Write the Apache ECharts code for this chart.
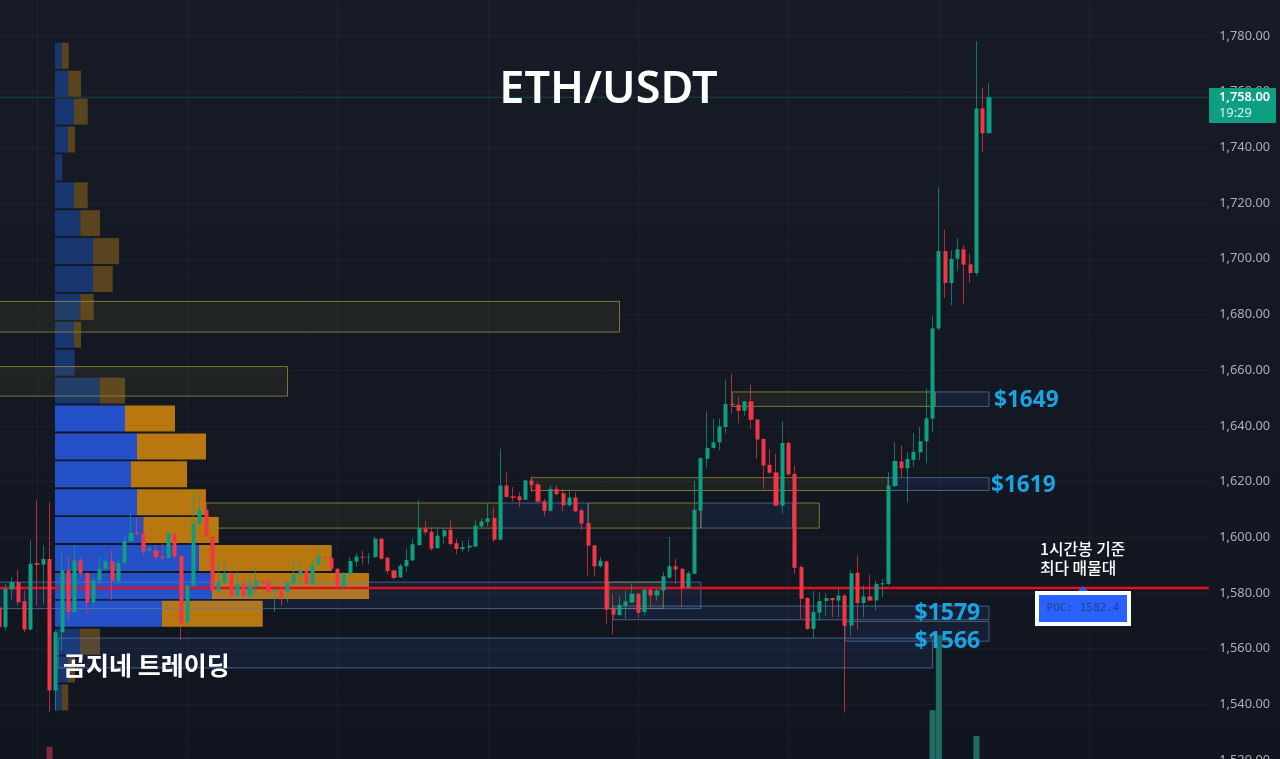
<!DOCTYPE html>
<html>
<head>
<meta charset="utf-8">
<title>ETH/USDT</title>
<style>
  html, body { margin: 0; padding: 0; background: #141823; }
  #chart { width: 1280px; height: 759px; }
</style>
<script src="https://cdn.jsdelivr.net/npm/echarts@6/dist/echarts.min.js"></script>
</head>
<body>
<div id="chart"></div>
<script>
// candles: open, close, low, high
var candles = [
  [1574.9,1567.7,1566.5,1576.1],[1567.7,1581.5,1566.5,1583.3],[1581.3,1583.9,1577.3,1585.7],[1583.9,1576.7,1575.5,1588.3],
  [1577.1,1566.9,1565.9,1580.9],[1566.9,1590.5,1566.5,1598.9],[1590.7,1590.1,1575.5,1613.2],[1590.2,1592.2,1576.1,1597.1],
  [1592.2,1545.0,1537.2,1612.6],[1545.0,1565.9,1537.8,1566.5],[1565.9,1588.1,1559.4,1594.7],[1588.1,1573.1,1570.1,1593.5],
  [1573.1,1591.7,1572.9,1597.1],[1591.7,1587.1,1585.7,1592.9],[1587.2,1576.7,1572.5,1587.5],[1576.7,1584.5,1574.3,1585.7],
  [1584.5,1588.7,1583.3,1592.9],[1588.7,1591.4,1588.1,1592.3],[1591.4,1584.3,1577.3,1595.3],[1584.3,1590.7,1583.3,1592.3],
  [1590.7,1598.6,1590.5,1600.6],[1598.6,1601.6,1598.5,1608.4],[1601.7,1601.2,1600.6,1607.2],[1601.2,1594.9,1593.5,1604.8],
  [1595.5,1595.9,1594.7,1596.5],[1595.3,1592.9,1591.7,1597.1],[1593.1,1592.6,1591.7,1597.7],[1592.6,1601.5,1592.3,1602.4],
  [1601.2,1593.1,1592.3,1601.8],[1593.4,1569.2,1563.2,1593.5],[1569.5,1582.7,1569.2,1583.1],[1582.7,1604.8,1582.1,1616.2],
  [1604.8,1609.9,1604.2,1615.6],[1609.9,1600.3,1600.0,1616.8],[1600.3,1580.9,1580.3,1600.6],[1580.9,1583.9,1580.3,1591.7],
  [1583.9,1587.2,1583.3,1591.1],[1586.9,1578.9,1578.5,1587.5],[1578.9,1583.1,1578.5,1587.5],[1583.1,1578.9,1578.5,1585.1],
  [1578.9,1582.7,1578.5,1585.7],[1582.5,1584.5,1579.7,1589.3],[1584.3,1583.8,1581.5,1584.7],[1583.9,1580.3,1579.1,1585.7],
  [1580.7,1581.1,1573.1,1581.5],[1581.5,1578.5,1575.5,1582.1],[1580.5,1583.5,1576.7,1584.5],[1583.5,1586.6,1583.3,1591.7],
  [1586.5,1588.1,1583.3,1591.7],[1587.8,1583.3,1583.1,1589.3],[1583.3,1590.2,1582.7,1591.7],[1590.2,1592.9,1589.9,1596.5],
  [1592.9,1592.5,1591.7,1593.5],[1592.6,1588.7,1588.3,1593.1],[1588.7,1582.3,1581.9,1589.0],[1582.3,1586.9,1581.5,1587.5],
  [1586.7,1591.5,1585.1,1592.9],[1591.3,1593.1,1589.6,1594.3],[1593.0,1592.7,1590.3,1595.1],[1592.8,1593.0,1590.3,1594.3],
  [1592.9,1599.5,1592.7,1600.3],[1599.5,1592.3,1591.9,1599.7],[1592.7,1587.9,1586.9,1592.9],[1588.1,1585.4,1584.8,1588.4],
  [1585.6,1589.8,1585.4,1590.5],[1589.6,1591.9,1587.5,1595.9],[1591.7,1597.5,1591.5,1599.5],[1597.2,1603.2,1597.0,1613.3],
  [1603.2,1601.8,1600.7,1605.8],[1602.0,1595.9,1595.1,1603.4],[1596.1,1600.6,1595.9,1603.7],[1600.3,1602.5,1597.7,1603.4],
  [1602.7,1597.6,1597.1,1606.1],[1597.9,1595.8,1593.9,1599.5],[1595.8,1596.5,1594.8,1598.7],[1596.3,1597.0,1594.8,1599.1],
  [1596.7,1604.2,1596.5,1606.1],[1603.9,1605.7,1603.1,1606.7],[1605.5,1606.8,1603.9,1612.1],[1607.0,1599.1,1598.3,1610.9],
  [1599.1,1618.6,1598.9,1631.8],[1618.6,1614.5,1614.2,1623.2],[1614.7,1614.2,1612.9,1618.0],[1614.7,1613.3,1610.9,1616.2],
  [1613.5,1620.4,1613.3,1620.6],[1620.4,1618.8,1616.2,1621.9],[1619.0,1612.8,1612.3,1619.8],[1613.0,1609.5,1607.5,1613.9],
  [1609.5,1617.4,1609.3,1618.6],[1617.4,1615.5,1615.0,1618.6],[1615.8,1611.5,1609.3,1617.4],[1611.5,1614.3,1611.1,1617.1],
  [1614.3,1609.3,1609.1,1616.2],[1609.7,1604.9,1602.5,1610.3],[1605.1,1597.0,1586.3,1605.2],[1597.1,1589.6,1586.0,1597.3],
  [1589.6,1591.6,1589.1,1592.9],[1591.3,1574.0,1568.7,1591.7],[1574.4,1572.2,1565.1,1579.7],[1572.1,1575.8,1571.6,1579.1],
  [1575.4,1577.0,1570.8,1580.9],[1576.6,1579.7,1576.4,1583.3],[1579.7,1572.9,1571.1,1580.0],[1573.2,1581.2,1572.0,1581.5],
  [1581.2,1579.1,1574.9,1581.5],[1579.1,1580.9,1577.3,1581.5],[1580.9,1586.0,1580.7,1587.5],[1585.5,1589.6,1585.1,1600.1],
  [1589.6,1588.4,1583.3,1592.3],[1588.7,1581.8,1574.9,1589.0],[1581.9,1587.1,1581.6,1587.8],[1586.9,1609.9,1586.7,1620.2],
  [1609.6,1628.4,1609.4,1628.8],[1628.2,1632.1,1625.0,1645.3],[1632.1,1634.1,1631.8,1642.6],[1634.1,1639.8,1631.2,1642.6],
  [1639.6,1647.9,1637.4,1656.6],[1647.9,1647.5,1644.3,1658.7],[1647.6,1645.4,1641.0,1650.3],[1645.4,1648.8,1643.7,1648.9],
  [1648.8,1642.2,1639.0,1654.9],[1642.3,1635.1,1628.2,1642.6],[1635.3,1625.8,1617.4,1635.4],[1626.0,1623.2,1622.8,1631.8],
  [1623.3,1611.4,1611.2,1630.0],[1611.4,1633.9,1608.4,1641.7],[1633.9,1622.6,1622.2,1634.2],[1622.8,1589.0,1586.9,1625.8],
  [1589.3,1577.9,1570.7,1589.9],[1578.2,1567.1,1566.8,1578.5],[1567.1,1573.1,1563.9,1580.7],[1572.9,1577.1,1570.1,1580.3],
  [1577.1,1578.2,1571.9,1579.7],[1578.2,1577.4,1571.3,1578.3],[1577.3,1579.1,1571.3,1581.9],[1579.1,1568.2,1537.1,1579.5],
  [1568.3,1587.1,1564.7,1588.1],[1587.3,1576.4,1566.8,1593.5],[1576.4,1578.8,1571.3,1582.7],[1578.8,1577.3,1577.1,1586.5],
  [1577.3,1583.3,1573.7,1584.5],[1583.1,1583.5,1578.5,1585.1],[1583.3,1618.6,1582.7,1623.4],[1618.4,1627.4,1618.0,1634.2],
  [1627.2,1624.8,1621.6,1633.0],[1624.8,1628.1,1612.6,1630.6],[1627.8,1630.7,1625.2,1637.4],[1630.5,1634.5,1627.6,1639.6],
  [1634.4,1642.7,1626.6,1653.3],[1642.6,1675.0,1637.8,1679.6],[1675.0,1702.8,1674.5,1725.7],[1702.8,1691.3,1686.0,1710.4],
  [1691.3,1700.0,1683.2,1703.0],[1700.0,1703.4,1695.6,1707.2],[1703.4,1697.9,1683.6,1704.8],[1698.0,1694.9,1691.3,1701.8],
  [1694.9,1754.0,1694.0,1778.2],[1754.0,1745.1,1738.3,1761.4],[1745.1,1758.0,1745.0,1763.1]
];

// only the volume bars tall enough to show above the bottom edge: [candle, volume]
var volumes = [[8, 17], [149, 64], [150, 160], [156, 31]];

// volume profile, top row first
var profilePrices = ["1773","1763","1753","1743","1733","1723","1713","1703","1693","1683","1673","1663","1653","1643","1633","1623","1613","1603","1593","1583","1573","1563","1553","1543"];
var profileBuy  = [6.7,13.3,19,13,7.3,19,25.3,38,38,25.3,19,19.7,44.7,70,82,76,82,88.3,144,157,107,25,13,6.7];
var profileSell = [7,12.7,13.7,7,0,13.7,19.7,26,19.7,13.4,7,0,25.3,50,69,56,69,75.4,132.7,157,100.7,20,7,6.6];
var valueAreaFirst = 13, valueAreaLast = 20;

// zones: from candle, to candle, top price, bottom price
var yellowZones = [
  [-5, 99, 1684.7, 1673.7],
  [-5, 46, 1661.3, 1650.7],
  [33, 80.2, 1612.3, 1603.3],
  [94, 112, 1612.3, 1603.3],
  [126.7, 130.9, 1612.3, 1603.3],
  [117, 149.4, 1652.2, 1647],
  [84.9, 141.9, 1621.4, 1616.8],
  [97.3, 106, 1583.9, 1574.4]
];
var blueZones = [
  [149.4, 158, 1652.2, 1647],
  [141.9, 158, 1621.4, 1616.8],
  [80.2, 94, 1612.3, 1603.3],
  [112, 126.7, 1612.3, 1603.3],
  [-5, 112, 1583.9, 1574.4],
  [98, 158, 1575.3, 1570.4],
  [135, 158, 1569.8, 1562.7],
  [9.4, 149, 1563.8, 1553.1]
];

var pocPrice = 1581.8;
var lastPrice = 1758;
var categories = [];
for (var n = 0; n < 194; n++) categories.push(String(n));

var UP = "#0e9f83";
var DOWN = "#f23645";
var LATIN = '"Noto Sans", sans-serif';
var KOREAN = '"Noto Sans CJK KR", sans-serif';

function zoneSeries(rows, stroke, fill, z) {
  return {
    type: "custom",
    xAxisIndex: 1,
    yAxisIndex: 0,
    z: z,
    silent: true,
    clip: true,
    data: rows,
    encode: { x: [0, 1], y: [2, 3] },
    renderItem: function (params, api) {
      var a = api.coord([api.value(0), api.value(2)]);
      var b = api.coord([api.value(1), api.value(3)]);
      return {
        type: "rect",
        shape: { x: a[0], y: a[1], width: b[0] - a[0], height: b[1] - a[1] },
        style: { fill: fill, stroke: stroke, lineWidth: 1 }
      };
    }
  };
}

function levelLine(price, color, width, z) {
  return {
    type: "line",
    xAxisIndex: 1,
    yAxisIndex: 0,
    z: z,
    silent: true,
    symbol: "none",
    lineStyle: { color: color, width: width },
    data: [[-1, price], [193.1, price]]
  };
}

function overlayText(text, x, y, font, color, align) {
  return {
    type: "text",
    z: 100,
    x: x,
    y: y,
    style: { text: text, font: font, fill: color, textAlign: align || "left", textVerticalAlign: "middle" }
  };
}

var chart = echarts.init(document.getElementById("chart"));

chart.setOption({
  animation: false,
  backgroundColor: new echarts.graphic.LinearGradient(0, 0, 0, 1, [
    { offset: 0, color: "#171b26" },
    { offset: 1, color: "#11151f" }
  ]),
  grid: [
    { left: -3.69, right: 68.7, top: -19.7, bottom: -1.1, outerBoundsMode: "none" },
    { left: 55, right: 0, top: 41.85, height: 669.6, outerBoundsMode: "none" }
  ],
  xAxis: [
    {
      type: "category",
      gridIndex: 0,
      data: categories,
      axisLine: { show: false },
      axisTick: { show: false },
      axisLabel: { show: false },
      splitLine: {
        show: true,
        alignWithLabel: true,
        interval: function (i) { return (i - 6) % 24 === 0; },
        lineStyle: { color: "rgba(255,255,255,0.035)", width: 1 }
      }
    },
    { type: "value", gridIndex: 0, min: -0.5, max: 193.5, show: false },
    { type: "value", gridIndex: 1, min: 0, max: 1225, show: false }
  ],
  yAxis: [
    {
      type: "value",
      gridIndex: 0,
      position: "right",
      min: 1520,
      max: 1800,
      interval: 20,
      axisLine: { show: false },
      axisTick: { show: false },
      axisLabel: {
        color: "#a9adb7",
        fontFamily: LATIN,
        fontSize: 12.8,
        margin: 8,
        formatter: function (v) {
          return v.toLocaleString("en-US", { minimumFractionDigits: 2, maximumFractionDigits: 2 });
        }
      },
      splitLine: { show: true, lineStyle: { color: "rgba(255,255,255,0.035)", width: 1 } }
    },
    { type: "value", gridIndex: 0, min: 0, max: 1000, show: false },
    { type: "category", gridIndex: 1, data: profilePrices, inverse: true, show: false }
  ],
  series: [
    {
      name: "buy volume",
      type: "bar",
      xAxisIndex: 2,
      yAxisIndex: 2,
      stack: "profile",
      z: 1,
      silent: true,
      barWidth: 26,
      data: profileBuy,
      itemStyle: {
        color: function (p) {
          return p.dataIndex >= valueAreaFirst && p.dataIndex <= valueAreaLast ? "#2450c8" : "#18366f";
        }
      }
    },
    {
      name: "sell volume",
      type: "bar",
      xAxisIndex: 2,
      yAxisIndex: 2,
      stack: "profile",
      z: 1,
      silent: true,
      barWidth: 26,
      data: profileSell,
      itemStyle: {
        color: function (p) {
          return p.dataIndex >= valueAreaFirst && p.dataIndex <= valueAreaLast ? "#b9780f" : "#5a431f";
        }
      }
    },
    zoneSeries(yellowZones, "rgba(150,140,60,0.8)", "rgba(170,160,40,0.08)", 2),
    zoneSeries(blueZones, "rgba(90,125,170,0.7)", "rgba(70,120,255,0.09)", 2),
    levelLine(lastPrice, "rgba(14,159,131,0.35)", 1, 3),
    levelLine(pocPrice, "#e0101c", 2.4, 3),
    {
      name: "volume",
      type: "bar",
      xAxisIndex: 0,
      yAxisIndex: 1,
      z: 3,
      silent: true,
      barWidth: 6,
      data: volumes,
      itemStyle: {
        color: function (p) {
          var c = candles[p.value[0]];
          return c[1] > c[0] ? "#206c64" : "#7a2a38";
        }
      }
    },
    // wicks, a little dimmer than the bodies
    {
      name: "wicks",
      type: "candlestick",
      xAxisIndex: 0,
      yAxisIndex: 0,
      z: 4,
      silent: true,
      barWidth: 1,
      data: candles,
      itemStyle: {
        color: "rgba(14,159,131,0.7)",
        color0: "rgba(242,54,69,0.7)",
        borderColor: "rgba(14,159,131,0.7)",
        borderColor0: "rgba(242,54,69,0.7)",
        borderWidth: 1
      }
    },
    {
      name: "ETH/USDT",
      type: "candlestick",
      xAxisIndex: 0,
      yAxisIndex: 0,
      z: 5,
      silent: true,
      barWidth: 4.6,
      data: candles.map(function (c) {
        return [c[0], c[1], Math.min(c[0], c[1]), Math.max(c[0], c[1])];
      }),
      itemStyle: {
        color: UP,
        color0: DOWN,
        borderWidth: 0
      }
    }
  ],
  graphic: [
    overlayText("ETH/USDT", 608.5, 90, "600 45px " + LATIN, "#ffffff", "center"),
    overlayText("$1649", 994, 401, "700 22.6px " + LATIN, "#18a4e3"),
    overlayText("$1619", 991, 486, "700 22.6px " + LATIN, "#18a4e3"),
    overlayText("$1579", 914.5, 613, "700 23px " + LATIN, "#18a4e3"),
    overlayText("$1566", 914.5, 641, "700 23px " + LATIN, "#18a4e3"),
    overlayText("곰지네 트레이딩", 63, 665, "600 25px " + KOREAN, "#ffffff"),
    overlayText("1시간봉 기준", 1040, 549, "500 15.8px " + KOREAN, "#ffffff"),
    overlayText("최다 매물대", 1040, 568, "500 15.8px " + KOREAN, "#ffffff"),
    {
      type: "polygon",
      z: 99,
      shape: { points: [[1078, 591], [1083, 586], [1088, 591]] },
      style: { fill: "#2a5be8" }
    },
    {
      type: "rect",
      z: 99,
      shape: { x: 1037, y: 593, width: 92, height: 31 },
      style: { fill: "#2962ff", stroke: "#ffffff", lineWidth: 4 }
    },
    overlayText("POC: 1582.4", 1083, 608.5, '11px "DejaVu Sans Mono", monospace', "#24408f", "center"),
    {
      type: "rect",
      z: 99,
      shape: { x: 1209, y: 88, width: 67, height: 35, r: 1 },
      style: { fill: "#0e9f83" }
    },
    overlayText("1,758.00", 1219, 97.5, "600 12.8px " + LATIN, "#ffffff"),
    overlayText("19:29", 1219, 113.5, "12.8px " + LATIN, "#d6f2ec")
  ]
});
</script>
</body>
</html>
